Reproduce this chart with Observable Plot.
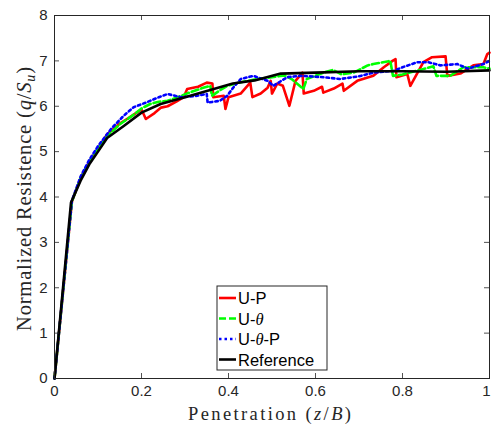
<!DOCTYPE html>
<html>
<head>
<meta charset="utf-8">
<script src="https://cdn.jsdelivr.net/npm/d3@7"></script>
<script src="https://cdn.jsdelivr.net/npm/@observablehq/plot@0.6"></script>
<style>
  html, body { margin: 0; padding: 0; background: #fff; }
  svg { display: block; }
</style>
</head>
<body>
<div id="chart"></div>
<script>
// ---- data ----
const xTicks = [0, 0.2, 0.4, 0.6, 0.8, 1];
const xTickLabels = ["0", "0.2", "0.4", "0.6", "0.8", "1"];
const yTicks = [0, 1, 2, 3, 4, 5, 6, 7, 8];
const yTickLabels = ["0", "1", "2", "3", "4", "5", "6", "7", "8"];

const seriesNames = ["U-P", "U-θ", "U-θ-P", "Reference"];

const upX = [0, 0.04, 0.06, 0.08, 0.1, 0.12, 0.15, 0.17, 0.2, 0.21, 0.23, 0.245, 0.26, 0.28, 0.297, 0.305, 0.33, 0.35, 0.363, 0.365, 0.389, 0.393, 0.4, 0.428, 0.45, 0.455, 0.474, 0.49, 0.497, 0.5, 0.512, 0.525, 0.54, 0.554, 0.57, 0.573, 0.596, 0.615, 0.618, 0.642, 0.662, 0.665, 0.696, 0.733, 0.757, 0.777, 0.784, 0.786, 0.811, 0.818, 0.848, 0.868, 0.899, 0.903, 0.933, 0.963, 0.986, 0.995, 1.0];
const upY = [0, 3.9, 4.42, 4.78, 5.07, 5.37, 5.62, 5.74, 5.93, 5.72, 5.85, 5.97, 6.0, 6.1, 6.2, 6.38, 6.43, 6.52, 6.5, 6.2, 6.23, 5.94, 6.2, 6.28, 6.52, 6.2, 6.28, 6.41, 6.56, 6.28, 6.5, 6.45, 6.01, 6.56, 6.74, 6.28, 6.34, 6.43, 6.3, 6.39, 6.5, 6.34, 6.56, 6.67, 6.86, 7.0, 7.04, 6.64, 6.71, 6.45, 6.97, 7.08, 7.1, 6.67, 6.72, 6.9, 6.93, 7.15, 7.18];

const utX = [0, 0.04, 0.06, 0.08, 0.1, 0.12, 0.15, 0.18, 0.2, 0.22, 0.24, 0.26, 0.283, 0.31, 0.34, 0.358, 0.362, 0.38, 0.397, 0.428, 0.466, 0.5, 0.53, 0.545, 0.572, 0.58, 0.618, 0.64, 0.66, 0.69, 0.72, 0.733, 0.772, 0.778, 0.8, 0.84, 0.871, 0.878, 0.91, 0.94, 0.986, 1.0];
const utY = [0, 3.9, 4.42, 4.78, 5.07, 5.33, 5.6, 5.8, 5.95, 6.05, 6.1, 6.12, 6.2, 6.3, 6.4, 6.45, 6.23, 6.35, 6.45, 6.53, 6.6, 6.64, 6.68, 6.6, 6.38, 6.6, 6.74, 6.8, 6.7, 6.75, 6.9, 6.93, 7.0, 6.67, 6.7, 6.8, 6.88, 6.67, 6.67, 6.86, 6.86, 6.83];

const utpX = [0, 0.04, 0.06, 0.08, 0.1, 0.13, 0.16, 0.182, 0.21, 0.24, 0.26, 0.29, 0.32, 0.35, 0.352, 0.38, 0.397, 0.41, 0.428, 0.457, 0.49, 0.503, 0.535, 0.566, 0.618, 0.657, 0.7, 0.733, 0.78, 0.8, 0.834, 0.86, 0.887, 0.926, 0.95, 0.986, 1.0];
const utpY = [0, 3.92, 4.45, 4.82, 5.12, 5.5, 5.8, 5.98, 6.08, 6.2, 6.27, 6.2, 6.22, 6.27, 6.08, 6.12, 6.23, 6.4, 6.6, 6.67, 6.56, 6.45, 6.64, 6.67, 6.64, 6.6, 6.66, 6.74, 6.78, 6.86, 6.97, 6.97, 6.9, 6.93, 6.83, 6.93, 7.0];

const refX = [0, 0.038, 0.06, 0.08, 0.1, 0.121, 0.16, 0.2, 0.244, 0.3, 0.336, 0.41, 0.46, 0.52, 0.6, 0.7, 0.8, 0.9, 1.0];
const refY = [0, 3.88, 4.36, 4.72, 5.0, 5.3, 5.57, 5.86, 6.05, 6.2, 6.3, 6.5, 6.57, 6.72, 6.74, 6.77, 6.77, 6.76, 6.79];

const seriesColors = ["#ff0000", "#00ff00", "#0000ff", "#000000"];
const seriesDashes = [null, "7,3", "2.5,3", null];

// ---- build tables ----
const toRows = (xs, ys) => xs.map((x, i) => ({x, y: ys[i]}));
const seriesRows = [toRows(upX, upY), toRows(utX, utY), toRows(utpX, utpY), toRows(refX, refY)];

const W = 491, H = 428;
const mL = 54, mR = 2, mT = 15, mB = 50;
const iW = W - mL - mR, iH = H - mT - mB;
const tickLen = 5;
const axisColor = "#262626";
const sansFont = "'Liberation Sans', Arial, Helvetica, sans-serif";
const serifFont = "'Liberation Serif', 'DejaVu Serif', serif";

const plot = Plot.plot({
  width: W,
  height: H,
  marginLeft: mL,
  marginRight: mR,
  marginTop: mT,
  marginBottom: mB,
  style: {fontFamily: sansFont, fontSize: "15px", color: axisColor, background: "#fff"},
  x: {domain: [0, 1], ticks: xTicks, tickSize: 0, tickPadding: 7, label: null,
      tickFormat: d => xTickLabels[xTicks.indexOf(d)]},
  y: {domain: [0, 8], ticks: yTicks, tickSize: 0, tickPadding: 7, label: null,
      tickFormat: d => yTickLabels[yTicks.indexOf(d)]},
  marks: [
    ...seriesRows.map((rows, i) => Plot.line(rows, {
      x: "x", y: "y", stroke: seriesColors[i], strokeWidth: 2.6,
      ...(seriesDashes[i] ? {strokeDasharray: seriesDashes[i]} : {})
    })),
    // inward ticks on all four sides
    Plot.tickX(xTicks, {x: d => d, insetTop: iH - tickLen, stroke: axisColor, strokeWidth: 0.8}),
    Plot.tickX(xTicks, {x: d => d, insetBottom: iH - tickLen, stroke: axisColor, strokeWidth: 0.8}),
    Plot.tickY(yTicks, {y: d => d, insetRight: iW - tickLen, stroke: axisColor, strokeWidth: 0.8}),
    Plot.tickY(yTicks, {y: d => d, insetLeft: iW - tickLen, stroke: axisColor, strokeWidth: 0.8}),
    Plot.frame({stroke: axisColor, strokeWidth: 1})
  ]
});

document.getElementById("chart").appendChild(plot);

const svg = d3.select(plot);

// keep the last x tick label inside the picture
svg.selectAll("text").each(function() {
  if (this.textContent === "1") {
    const bb = this.getBoundingClientRect();
    if (bb.top > mT + iH) {
      d3.select(this).attr("text-anchor", "end").attr("dx", 1);
    }
  }
});

// ---- axis titles (rich text) ----
const ns = svg.append("g").attr("font-family", serifFont).attr("fill", axisColor);

const xl = ns.append("text").attr("x", mL + iW / 2 - 2).attr("y", 420).attr("font-size", 18.5)
  .attr("text-anchor", "middle").attr("textLength", 163).attr("lengthAdjust", "spacing");
xl.append("tspan").text("Penetration (");
xl.append("tspan").attr("font-style", "italic").text("z");
xl.append("tspan").text("/");
xl.append("tspan").attr("font-style", "italic").text("B");
xl.append("tspan").text(")");

const yl = ns.append("text").attr("font-size", 20.5)
  .attr("transform", `translate(31,199) rotate(-90)`)
  .attr("text-anchor", "middle").attr("textLength", 264).attr("lengthAdjust", "spacing");
yl.append("tspan").text("Normalized Resistence (");
yl.append("tspan").attr("font-style", "italic").text("q");
yl.append("tspan").text("/");
yl.append("tspan").attr("font-style", "italic").text("S");
yl.append("tspan").attr("font-style", "italic").attr("font-size", 14).attr("dy", 4).text("u");
yl.append("tspan").attr("dy", -4).text(")");

// ---- legend ----
const lg = svg.append("g").attr("transform", "translate(217,286)");
lg.append("rect").attr("width", 110).attr("height", 84).attr("fill", "#fff").attr("stroke", axisColor).attr("stroke-width", 1);
seriesNames.forEach((name, i) => {
  const yy = 12 + i * 20.5;
  const ln = lg.append("line").attr("x1", 2).attr("x2", 19).attr("y1", yy).attr("y2", yy)
    .attr("stroke", seriesColors[i]).attr("stroke-width", 2.6);
  if (seriesDashes[i]) ln.attr("stroke-dasharray", seriesDashes[i]);
  const t = lg.append("text").attr("x", 21).attr("y", yy + 6)
    .attr("text-anchor", "start")
    .attr("font-family", sansFont).attr("font-size", 16.5).attr("fill", "#000");
  const parts = name.split("θ");
  parts.forEach((p, j) => {
    if (j > 0) t.append("tspan").attr("font-family", serifFont).attr("font-style", "italic").text("θ");
    t.append("tspan").text(p);
  });
});
</script>
</body>
</html>
